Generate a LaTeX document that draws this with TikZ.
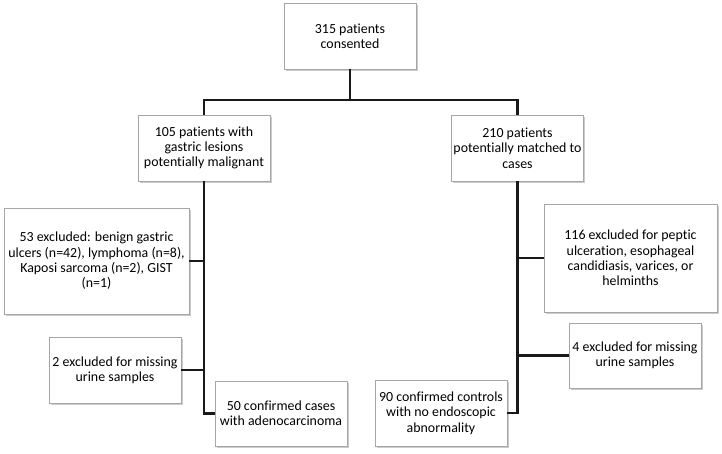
\documentclass[tikz,border=0pt]{standalone}
\usepackage{fontspec}
\setmainfont{Carlito}[Ligatures=NoCommon]
\usetikzlibrary{shadows}

\tikzset{
	box/.style={draw=black!35,fill=white,align=center,inner sep=2pt,
		minimum height=66pt,
		drop shadow={shadow xshift=1.8pt,shadow yshift=-1.8pt,fill=black!40},
		font=\fontsize{13.9}{15.3}\selectfont},
	link/.style={line width=2.1pt,black!90}
}

\begin{document}
\begin{tikzpicture}[x=1pt,y=-1pt]
	\useasboundingbox (0,0) rectangle (722,453);
	% draw boxes
	\node[box,minimum width=132pt] (consent) at (350,36) {315 patients\\consented};
	\node[box,minimum width=132pt] (lesion) at (204,148) {105 patients with\\gastric lesions\\potentially malignant};
	\node[box,minimum width=131pt] (matched) at (517.5,148) {210 patients\\potentially matched to\\cases};
	\node[box,minimum width=185pt,minimum height=106pt] (excl53) at (96.5,261) {53 excluded: benign gastric\\ulcers (n=42), lymphoma (n=8),\\Kaposi sarcoma (n=2), GIST\\(n=1)};
	\node[box,minimum width=132pt] (excl2) at (115,370) {2 excluded for missing\\urine samples};
	\node[box,minimum width=132pt,minimum height=65pt] (cases) at (281,413.5) {50 confirmed cases\\with adenocarcinoma};
	\node[box,minimum width=173pt,minimum height=108pt] (excl116) at (630.5,258) {116 excluded for peptic\\ulceration, esophageal\\candidiasis, varices, or\\helminths};
	\node[box,minimum width=132pt,minimum height=65pt] (excl4) at (635,355.5) {4 excluded for missing\\urine samples};
	\node[box,minimum width=132pt] (controls) at (441,413) {90 confirmed controls\\with no endoscopic\\abnormality};
	% draw connectors
	\coordinate (split) at (350,100);
	\draw[link] (consent) -- (split);
	\draw[link] (lesion.north) |- (split) -| (matched.north);
	\draw[link] (lesion.south) |- (cases.west);
	\draw[link] (excl53.east) -- (excl53.east -| lesion.south);
	\draw[link] (excl2.east) -- (excl2.east -| lesion.south);
	\draw[link] (matched.south) |- (controls.east);
	\draw[link] (excl116.west) -- (excl116.west -| matched.south);
	\draw[link] (excl4.west) -- (excl4.west -| matched.south);
\end{tikzpicture}
\end{document}
